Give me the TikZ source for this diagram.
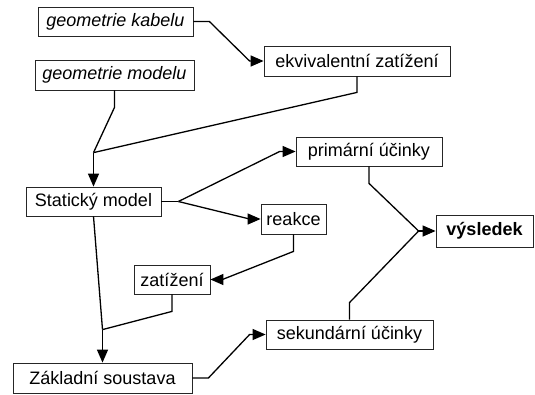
\documentclass[tikz,border=0pt]{standalone}
\usepackage{fontspec}
\setmainfont{Liberation Sans}
\usetikzlibrary{arrows.meta}
\begin{document}
\begin{tikzpicture}[x=1pt,y=-1pt,
  box/.style={draw=black!85,line width=0.8pt,inner sep=0pt,anchor=center,font=\fontsize{18}{21}\selectfont},
  conn/.style={line width=1.3pt},
  arr/.style={conn,-{Triangle[length=13pt,width=11pt]}}]
\useasboundingbox (0,0) rectangle (535,394);
\node[box,minimum width=155pt,minimum height=29pt] (gk) at (115.5,21.5) {\itshape geometrie kabelu};
\node[box,minimum width=159pt,minimum height=30pt] (gm) at (114.5,75) {\itshape geometrie modelu};
\node[box,minimum width=186pt,minimum height=30pt] (ekv) at (357,61) {ekvivalentní zatížení};
\node[box,minimum width=146pt,minimum height=29pt] (prim) at (369,151.5) {primární účinky};
\node[box,minimum width=135pt,minimum height=29pt] (stat) at (93.5,201.5) {Statický model};
\node[box,minimum width=65pt,minimum height=30pt] (reak) at (293.5,219) {reakce};
\node[box,minimum width=76pt,minimum height=29pt] (zat) at (172,279.5) {zatížení};
\node[box,minimum width=179pt,minimum height=30pt] (zakl) at (102.5,378) {Základní soustava};
\node[box,minimum width=167pt,minimum height=29pt] (sek) at (349.5,334.5) {sekundární účinky};
\node[box,minimum width=97pt,minimum height=32pt] (vys) at (484.5,231) {\bfseries výsledek};
\coordinate (j1) at ([yshift=34pt]stat.north);
\coordinate (j2) at ([xshift=17pt]stat.east);
\coordinate (j3) at ([yshift=33pt]zakl.north);
\coordinate (j4) at ([xshift=-17pt]vys.west);
\draw[arr] (gk.east) -- ++(16,0) -- ([xshift=-14pt]ekv.west) -- (ekv.west);
\draw[conn] (ekv.south) -- ++(0,16) -- (j1);
\draw[conn] (gm.south) -- ++(0,17) -- (j1);
\draw[arr] (j1) -- (stat.north);
\draw[conn] (stat.east) -- (j2);
\draw[arr] (j2) -- ([xshift=-16pt]prim.west) -- (prim.west);
\draw[arr] (j2) -- ([xshift=-11pt]reak.west) -- (reak.west);
\draw[arr] (reak.south) -- ++(0,17) -- ([xshift=12pt]zat.east) -- (zat.east);
\draw[conn] (zat.south) -- ++(0,17) -- (j3);
\draw[conn] (stat.south) -- (j3);
\draw[arr] (j3) -- (zakl.north);
\draw[arr] (zakl.east) -- ++(16,0) -- ([xshift=-16pt]sek.west) -- (sek.west);
\draw[conn] (prim.south) -- ++(0,17) -- (j4);
\draw[conn] (sek.north) -- ++(0,-17) -- (j4);
\draw[arr] (j4) -- (vys.west);
\end{tikzpicture}
\end{document}
